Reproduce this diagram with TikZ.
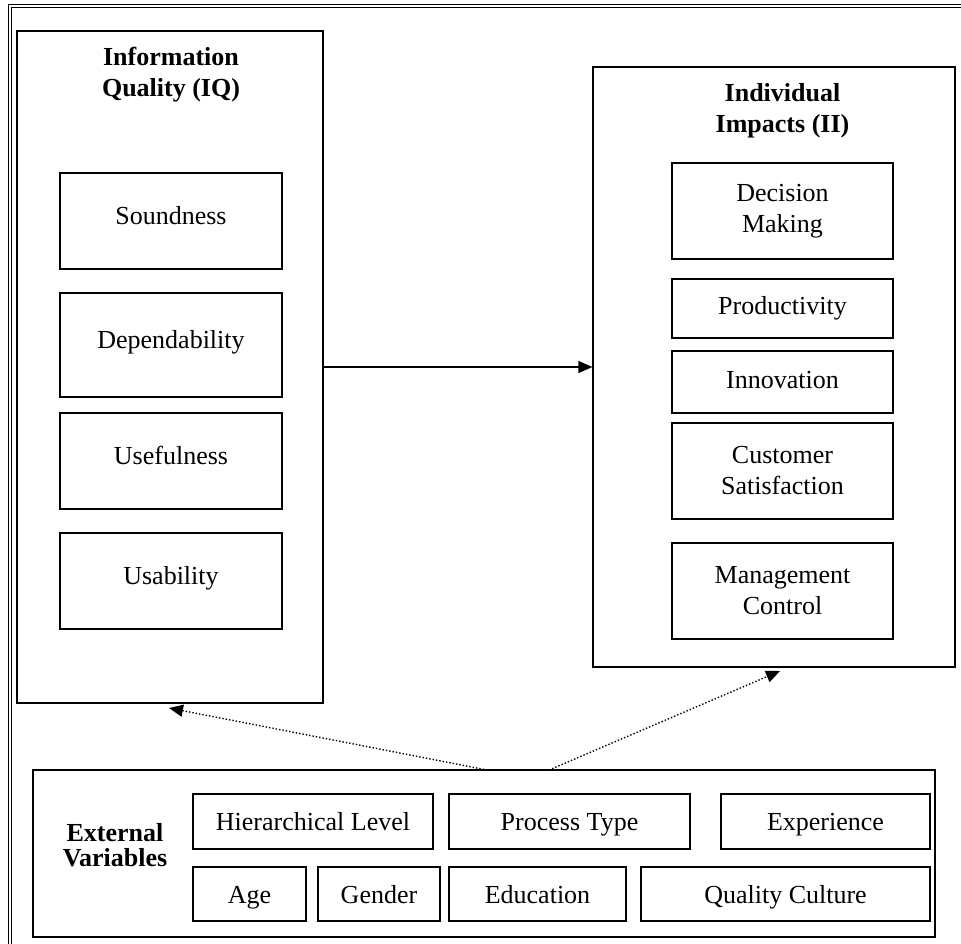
\documentclass[tikz,border=0pt]{standalone}
\usepackage{fontspec}
\setmainfont{Liberation Serif}
\usetikzlibrary{arrows.meta,positioning}
\newcommand\boxfont{\fontsize{26}{31}\selectfont}
\tikzset{
  item/.style={draw,line width=1.2pt,align=center,inner sep=0pt,font=\boxfont},
  single/.style={item,text height=18pt,text depth=#1},
  group/.style={draw,line width=1.2pt,inner sep=0pt},
  heading/.style={align=center,inner sep=0pt,font=\boxfont\bfseries},
  arr/.style={-{Triangle[length=14pt,width=12pt]},line width=1.2pt},
  darr/.style={-{Triangle[length=14pt,width=12pt]},line width=1.4pt,dotted}
}
\begin{document}
\begin{tikzpicture}[x=1pt,y=-1pt]
\useasboundingbox (0,0) rectangle (961,943);
\clip (0,0) rectangle (961,943);
\fill[white] (0,0) rectangle (961,943);
% outer frame, runs off the page on the right and bottom
\draw[double,double distance=1.6pt,line width=0.8pt] (10,6) rectangle (1000,1000);

% Information Quality
\node[group,minimum width=306pt,minimum height=672pt] (iq) at (170,367) {};
\node[single=12pt,minimum width=222pt,minimum height=96pt] (sound) at (171,221) {Soundness};
\node[single=12pt,minimum width=222pt,minimum height=104pt] (depend) at (171,345) {Dependability};
\node[single=12pt,minimum width=222pt,minimum height=96pt] (useful) at (171,461) {Usefulness};
\node[single=12pt,minimum width=222pt,minimum height=96pt] (usab) at (171,581) {Usability};
\node[heading,above=70pt of sound] (iqtitle) {Information\\Quality (IQ)};

% Individual Impacts
\node[group,minimum width=362pt,minimum height=600pt] (ii) at (774,367) {};
\node[item,minimum width=221pt,minimum height=96pt] (decis) at (782.5,211) {Decision\\Making};
\node[single=6pt,minimum width=221pt,minimum height=59pt] (prod) at (782.5,308.5) {Productivity};
\node[single=6pt,minimum width=221pt,minimum height=62pt] (innov) at (782.5,382) {Innovation};
\node[item,minimum width=221pt,minimum height=96pt] (cust) at (782.5,471) {Customer\\Satisfaction};
\node[item,minimum width=221pt,minimum height=96pt] (mgmt) at (782.5,591) {Management\\Control};
\node[heading,above=24pt of decis] (iititle) {Individual\\Impacts (II)};

% External Variables
\node[group,minimum width=902pt,minimum height=167pt] (ext) at (484,853.5) {};
\node[heading,font=\fontsize{26}{25}\selectfont\bfseries] (exttitle) at (115,845.5) {External\\Variables};
\node[single=0pt,minimum width=240pt,minimum height=55pt] (hier) at (313,821.5) {Hierarchical Level};
\node[single=0pt,minimum width=241pt,minimum height=55pt] (proc) at (569.5,821.5) {Process Type};
\node[single=0pt,minimum width=209pt,minimum height=55pt] (expe) at (825.5,821.5) {Experience};
\node[single=0pt,minimum width=113pt,minimum height=54pt] (age) at (249.5,894) {Age};
\node[single=0pt,minimum width=122pt,minimum height=54pt] (gend) at (379,894) {Gender};
\node[single=0pt,minimum width=177pt,minimum height=54pt] (educ) at (537.5,894) {Education};
\node[single=0pt,minimum width=289pt,minimum height=54pt] (qual) at (785.5,894) {Quality Culture};

% connectors
\coordinate (iqtip) at (169,708);
\coordinate (iitip) at (780,671);
\coordinate (extr) at (549,770);
\draw[arr] (iq) -- (ii);
\draw[darr] (ext.north) -- (iqtip);
\draw[darr] (extr) -- (iitip);
\end{tikzpicture}
\end{document}
